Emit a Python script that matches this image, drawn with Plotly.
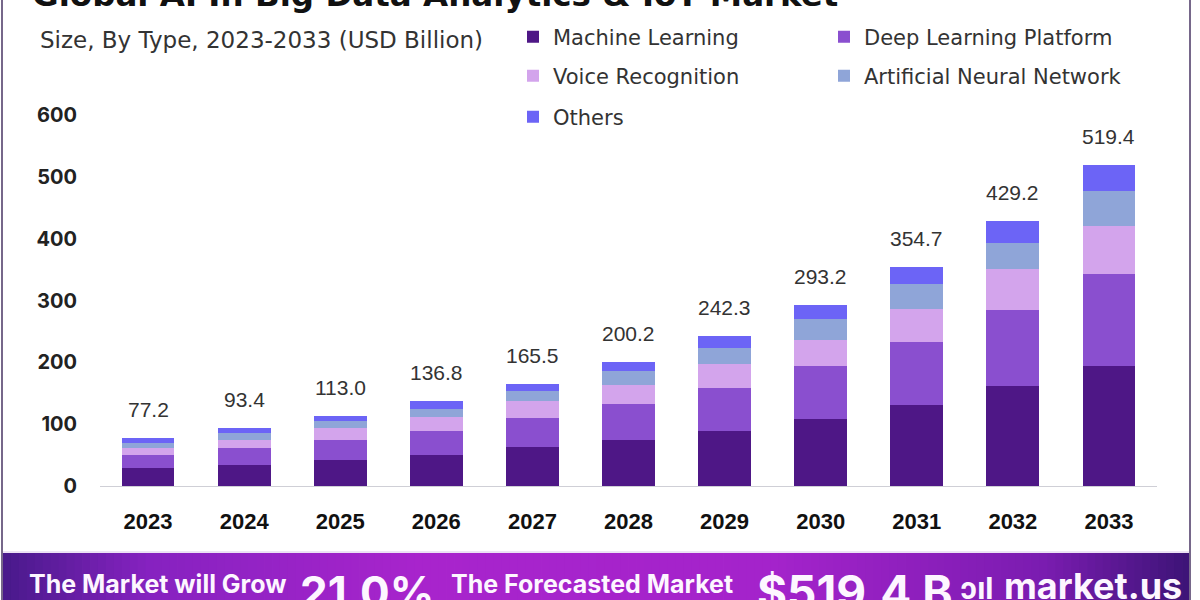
import plotly.graph_objects as go
from plotly.colors import sample_colorscale

# ---------------- data ----------------
years = ["2023", "2024", "2025", "2026", "2027", "2028", "2029", "2030", "2031", "2032", "2033"]
totals = [77.2, 93.4, 113.0, 136.8, 165.5, 200.2, 242.3, 293.2, 354.7, 429.2, 519.4]
machine_learning = [29.0, 34.5, 42.2, 50.9, 62.3, 74.5, 89.2, 108.7, 130.8, 161.7, 194.8]
deep_learning = [20.6, 27.7, 32.9, 38.3, 48.0, 57.6, 70.0, 84.7, 101.7, 122.3, 148.8]
voice_recognition = [11.2, 12.9, 18.4, 22.0, 26.5, 31.3, 37.7, 42.8, 54.3, 66.4, 76.8]
neural_network = [8.6, 10.0, 11.7, 13.6, 16.6, 22.0, 26.2, 33.1, 39.1, 43.4, 56.8]
others = [7.8, 8.3, 7.8, 12.0, 12.1, 14.8, 19.2, 23.9, 28.8, 35.4, 42.2]
y_ticks = [0, 100, 200, 300, 400, 500, 600]

series = [
    ("Machine Learning", machine_learning, "#4e1786", "legend"),
    ("Deep Learning Platform", deep_learning, "#8a4fcf", "legend"),
    ("Voice Recognition", voice_recognition, "#d3a4ec", "legend2"),
    ("Artificial Neural Network", neural_network, "#8fa5d8", "legend2"),
    ("Others", others, "#6c64f6", "legend3"),
]

W, H = 1200, 600
ML, MR, MT, MB = 100, 43, 115, 114
PW, PH = W - ML - MR, H - MT - MB


def px_x(p):
    return (p - ML) / PW


def px_y(p):
    return (H - MB - p) / PH


fig = go.Figure()
for name, vals, col, lg in series:
    fig.add_trace(go.Bar(
        x=years, y=vals, name=name, marker=dict(color=col, line=dict(width=0)),
        legend=lg, hoverinfo="x+y+name",
    ))

stack_tops = [sum(v) for v in zip(*[s[1] for s in series])]
annotations = []
for i, (tot, top) in enumerate(zip(totals, stack_tops)):
    annotations.append(dict(
        x=i, y=top, xref="x", yref="y", text=f"{tot:.1f}", showarrow=False,
        yanchor="bottom", yshift=15,
        font=dict(family="Liberation Sans, Arial", size=21, color="#333333"),
    ))

# title (clipped at top) and subtitle
annotations.append(dict(
    x=px_x(30), y=px_y(-5), xref="paper", yref="paper", xanchor="left", yanchor="middle",
    text="<b>Global AI In Big Data Analytics & IoT Market</b>", showarrow=False,
    font=dict(family="DejaVu Sans", size=32.5, color="#111111"),
))
annotations.append(dict(
    x=px_x(38), y=px_y(40), xref="paper", yref="paper", xanchor="left", yanchor="middle",
    text="Size, By Type, 2023-2033 (USD Billion)", showarrow=False,
    font=dict(family="DejaVu Sans", size=23, color="#333333"),
))

# banner texts
banner_font = "Inter"
banner_items = [
    dict(x=px_x(27), y=px_y(584), text="<b>The Market will Grow</b>", font_size=25),
    dict(x=px_x(298), y=px_y(592), text="<b>21.0%</b>", font_size=44),
    dict(x=px_x(449), y=px_y(584), text="<b>The Forecasted Market</b>", font_size=25),
    dict(x=px_x(755), y=px_y(592), text="<b>$519.4 B</b>", font_size=46),
    dict(x=px_x(958), y=px_y(588), text="<b>ↄıl</b>", font_size=30),
    dict(x=px_x(1002), y=px_y(586), text="<b>market.us</b>", font_size=36),
]
for a in banner_items:
    a.update(xref="paper", yref="paper", xanchor="left", yanchor="middle", showarrow=False,
             font=dict(family=banner_font, size=a.pop("font_size"), color="#fdf6ff"))
annotations += banner_items

# banner gradient via thin strips
shapes = []
x0b, x1b = 3, 1190
n = 150
cols = sample_colorscale(
    [[0, "#4a1a8c"], [0.12, "#8622c0"], [0.35, "#a824cc"], [0.65, "#a423cb"],
     [0.88, "#7a1cb0"], [1, "#3e1478"]],
    [i / (n - 1) for i in range(n)])
step = (x1b - x0b) / n
for i, c in enumerate(cols):
    shapes.append(dict(type="rect", xref="paper", yref="paper",
                       x0=px_x(x0b + i * step), x1=px_x(x0b + (i + 1) * step + 0.8),
                       y0=px_y(553), y1=px_y(601), fillcolor=c, line=dict(width=0), layer="below"))
shapes.append(dict(type="line", xref="paper", yref="paper", x0=px_x(x0b), x1=px_x(x1b),
                   y0=px_y(552), y1=px_y(552), line=dict(color="#d9c6ea", width=1)))
# frame borders
for xb in (2, 1190):
    shapes.append(dict(type="line", xref="paper", yref="paper", x0=px_x(xb), x1=px_x(xb),
                       y0=px_y(0), y1=px_y(600), line=dict(color="#76678a", width=2)))

legend_common = dict(
    orientation="h", xref="container", yref="container", xanchor="left", yanchor="middle",
    entrywidth=266, entrywidthmode="pixels", bgcolor="rgba(0,0,0,0)",
    font=dict(family="DejaVu Sans", size=21, color="#333333"), traceorder="normal",
)

fig.update_layout(
    width=W, height=H,
    margin=dict(l=ML, r=MR, t=MT, b=MB, autoexpand=False),
    paper_bgcolor="white", plot_bgcolor="white",
    barmode="stack", bargap=0.45,
    showlegend=True,
    legend=dict(x=513 / W, y=1 - 37 / H, **legend_common),
    legend2=dict(x=513 / W, y=1 - 76 / H, **legend_common),
    legend3=dict(x=513 / W, y=1 - 117 / H, **legend_common),
    xaxis=dict(
        type="category", range=[-0.5, len(years) - 0.5], showgrid=False, showline=True,
        linecolor="#cfcfd6", linewidth=1, ticks="", ticklabelstandoff=16,
        tickfont=dict(family="Liberation Sans, Arial", size=22, color="#111111", weight="bold"),
        zeroline=False,
    ),
    yaxis=dict(
        range=[0, 600], tickvals=y_ticks, showgrid=False, zeroline=False, showline=False,
        ticks="", ticklabelstandoff=22,
        tickfont=dict(family="Inter", size=20, color="#222222", weight="bold"),
    ),
    annotations=annotations,
    shapes=shapes,
)

fig.write_html("out.html")
